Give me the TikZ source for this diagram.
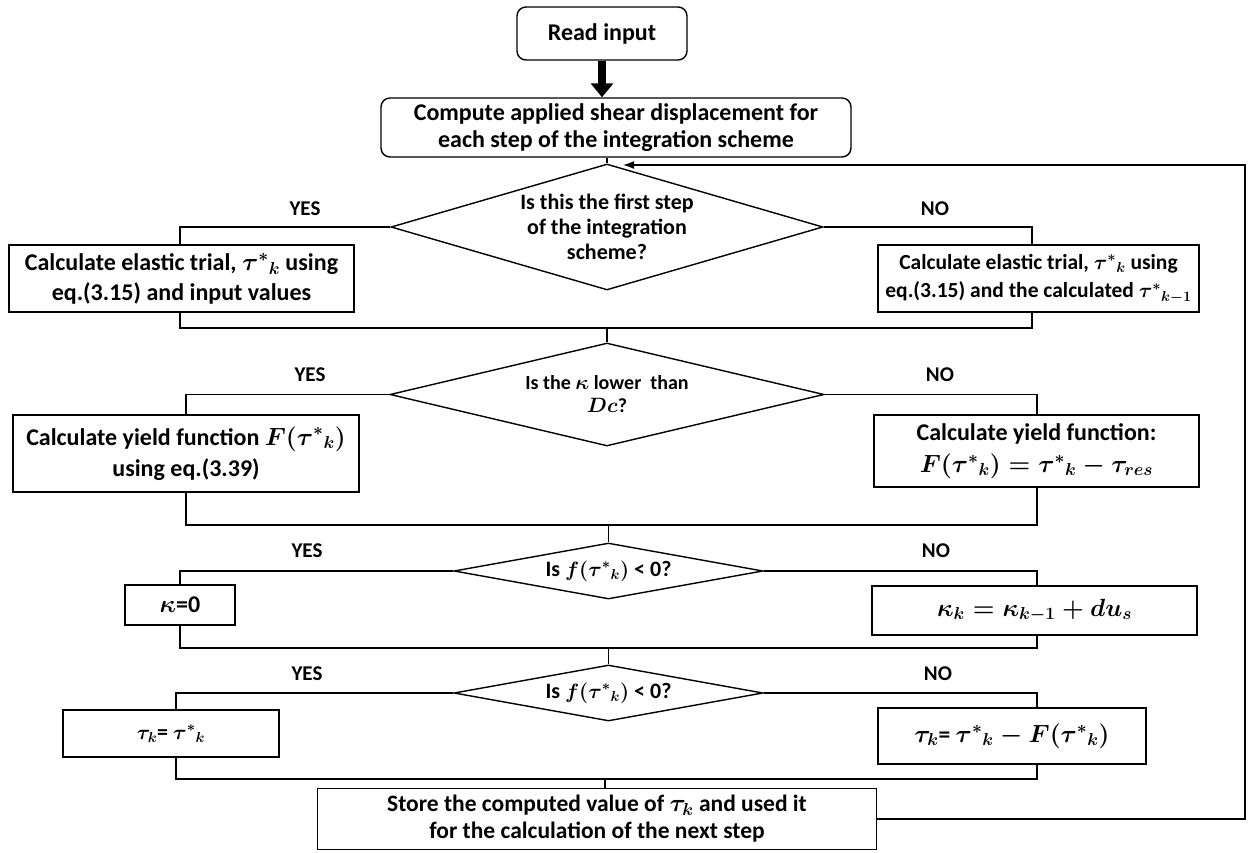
\documentclass[tikz,border=0pt]{standalone}
\usepackage{amsmath,amssymb}
\usepackage{fontspec}
\setmainfont{Carlito}
\usetikzlibrary{shapes.geometric,arrows.meta,backgrounds}
\newcommand{\fsz}[1]{\bfseries\boldmath\fontsize{#1}{#1}\selectfont\baselineskip=1.15\baselineskip}
\tikzset{
  box/.style = {draw, fill=white, line width=1.4pt, inner sep=0pt,
                align=center, font=\fsz{#1}},
  box/.default = 24,
  rbox/.style = {box=#1, rounded corners=9pt},
  rbox/.default = 24,
  decision/.style = {diamond, draw, fill=white, line width=1.4pt, inner sep=0pt},
  qtext/.style = {align=center, font=\fsz{#1}},
  answer/.style = {font=\fsz{21}},
  link/.style = {line width=1.5pt}
}

\begin{document}
\begin{tikzpicture}[x=1pt, y=-1pt]
	\useasboundingbox (0,0) rectangle (1252,853);
	
	% Start
	\node[rbox, minimum width=170pt, minimum height=53pt] (read) at (602,33.5) {Read input};
	\node[rbox, minimum width=470pt, minimum height=59pt] (compute) at (616,127.5)
		{Compute applied shear displacement for\\each step of the integration scheme};
	
	% Decisions
	\node[decision, minimum width=432pt, minimum height=126pt,
		label={[qtext=22]center:{Is this the first step\\of the integration\\scheme?}}] (qfirst) at (607,227) {};
	\node[decision, minimum width=434pt, minimum height=103pt,
		label={[qtext=20]center:{Is the $\kappa$ lower \ than\\$Dc$?}}] (qkappa) at (607,394.5) {};
	\node[decision, minimum width=309pt, minimum height=56pt,
		label={[qtext=22]center:{Is $f(\tau^{*}{}_{k})$ < 0?}}] (qfA) at (608.5,571) {};
	\node[decision, minimum width=309pt, minimum height=56pt,
		label={[qtext=22]center:{Is $f(\tau^{*}{}_{k})$ < 0?}}] (qfB) at (608.5,693) {};
	
	% Branch boxes
	\node[box=24, minimum width=345pt, minimum height=67pt] (trialA) at (181.5,278.5)
		{Calculate elastic trial, $\tau^{*}{}_{k}$ using\\[2pt]eq.(3.15) and input values};
	\node[box=21.5, minimum width=321pt, minimum height=67pt] (trialB) at (1038.5,278.5)
		{Calculate elastic trial, $\tau^{*}{}_{k}$ using\\[4pt]eq.(3.15) and the calculated $\tau^{*}{}_{k-1}$};
	\node[box=24, minimum width=346pt, minimum height=77pt] (yieldA) at (186,453.5)
		{Calculate yield function $F(\tau^{*}{}_{k})$\\[4pt]using eq.(3.39)};
	\node[box=24, minimum width=325pt, minimum height=72pt] (yieldB) at (1036.5,451)
		{Calculate yield function:\\[4pt]$F(\tau^{*}{}_{k}) = \tau^{*}{}_{k} - \tau_{res}$};
	\node[box, minimum width=110pt, minimum height=40pt] (kapA) at (180,605) {$\kappa$=0};
	\node[box=24, minimum width=325pt, minimum height=49pt] (kapB) at (1034.5,610.5)
		{$\kappa_{k} = \kappa_{k-1} + du_{s}$};
	\node[box=22, minimum width=216pt, minimum height=47pt] (tauA) at (171,733.5)
		{$\tau_{k}$= $\tau^{*}{}_{k}$};
	\node[box=23.5, minimum width=268pt, minimum height=56pt] (tauB) at (1012,736)
		{$\tau_{k}$= $\tau^{*}{}_{k} - F(\tau^{*}{}_{k})$};
	\node[box=23.5, minimum width=559pt, minimum height=61pt] (store) at (597,819)
		{Store the computed value of $\tau_{k}$ and used it\\for the calculation of the next step};
	
	% Answers
	\node[answer] (yes1) at (305,209) {YES};
	\node[answer] (no1) at (935,209) {NO};
	\node[answer] (yes2) at (310,375) {YES};
	\node[answer] (no2) at (940,375) {NO};
	\node[answer] (yes3) at (307,551) {YES};
	\node[answer] (no3) at (936,551) {NO};
	\node[answer] (yes4) at (307,674) {YES};
	\node[answer] (no4) at (938,674) {NO};
	
	% Junctions
	\coordinate (j1L) at (180,328);
	\coordinate (j1R) at (1032,328);
	\coordinate (j2L) at (186,525);
	\coordinate (j2R) at (1037,525);
	\coordinate (j3L) at (180,648);
	\coordinate (j3R) at (1037,648);
	\coordinate (j4L) at (176,779);
	\coordinate (j4R) at (1037,779);
	\coordinate (j4M) at (605,779);
	\coordinate (loopR) at (1245,165);
	\coordinate (loopin) at (623,165);
	
	% Connectors
	\draw[line width=8pt, -{Triangle[width=22pt,length=14pt]}] (read.south) -- (read.south |- compute.north);
	\begin{scope}[on background layer]
		\draw[link] (qfirst.north |- compute.south) -- (qfirst.north);
		\draw[link] (qfirst.west) -| (j1L) -- (j1R) |- (qfirst.east);
		\draw[link] (qkappa.north |- j1L) -- (qkappa.north);
		\draw[link] (qkappa.west) -| (j2L) -- (j2R) |- (qkappa.east);
		\draw[link] (qfA.north |- j2L) -- (qfA.north);
		\draw[link] (qfA.west) -| (j3L) -- (j3R) |- (qfA.east);
		\draw[link] (qfB.north |- j3L) -- (qfB.north);
		\draw[link] (qfB.west) -| (j4L) -- (j4R) |- (qfB.east);
		\draw[link] (j4M) -- (j4M |- store.north);
	\end{scope}
	
	% Loop back
	\draw[link, -{Latex[length=11pt,width=8pt]}] (store.east) -| (loopR) -- (loopin);
	
\end{tikzpicture}
\end{document}
